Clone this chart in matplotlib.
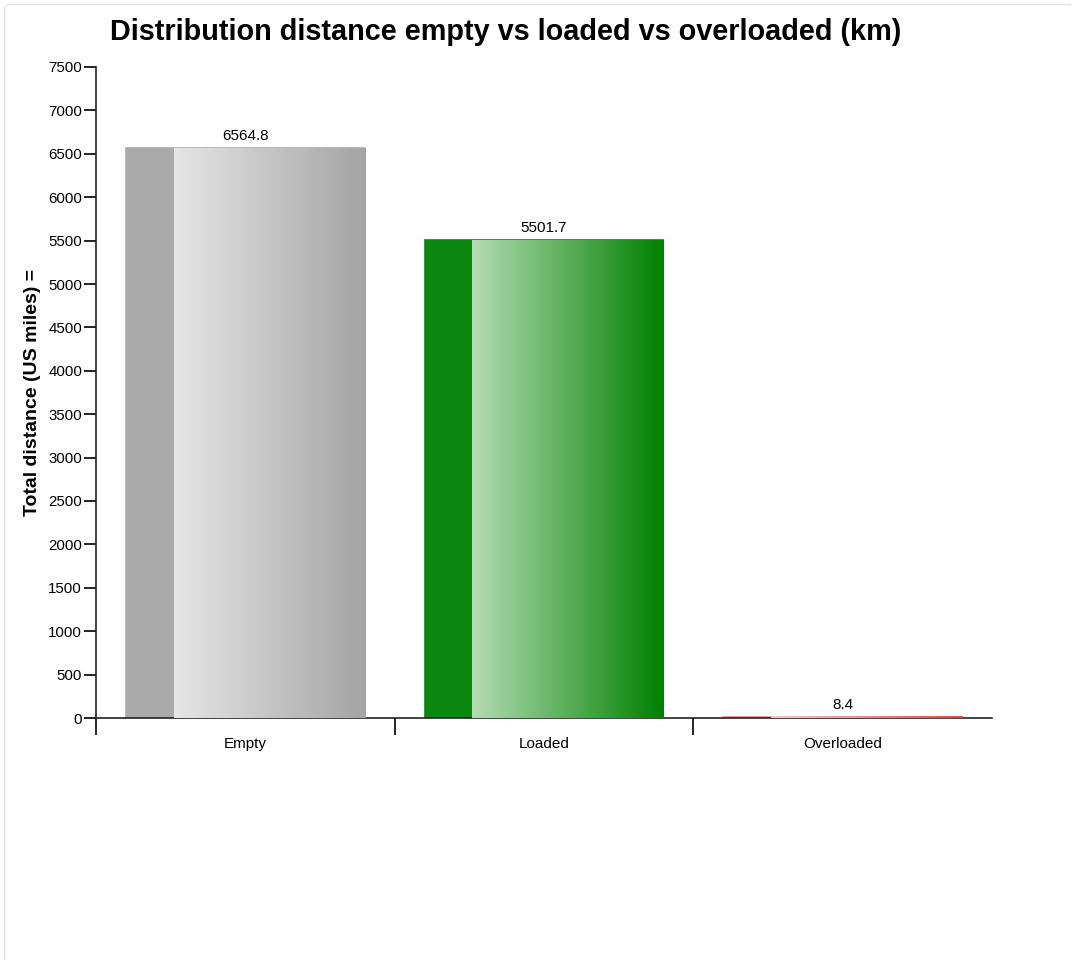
import numpy as np
import matplotlib.pyplot as plt
from matplotlib.colors import LinearSegmentedColormap
from matplotlib.lines import Line2D

plt.rcParams['font.family'] = ['Liberation Sans', 'DejaVu Sans']

categories = ['Empty', 'Loaded', 'Overloaded']
values = [6564.8, 5501.7, 8.4]
solid_colors = ['#aaaaaa', '#0b870f', '#f08080']
grad_colors = [('#e6e6e6', '#a4a4a4'), ('#b3dcb3', '#008000'), ('#ffc8c8', '#f04040')]
y_ticks = list(range(0, 7501, 500))

W, H = 1078, 960
fig = plt.figure(figsize=(W / 100, H / 100), dpi=100)
ax = fig.add_axes([96 / W, (H - 718) / H, (992 - 96) / W, (718 - 67) / H])

x = np.arange(len(categories))
bars = ax.bar(x, values, width=0.8, color=solid_colors, edgecolor=solid_colors,
              linewidth=1.2, zorder=2)

# gradient part of each bar (right ~80%)
grad = np.linspace(0, 1, 256).reshape(1, -1)
for b, (c0, c1) in zip(bars, grad_colors):
    cmap = LinearSegmentedColormap.from_list('g', [c0, c1])
    x0 = b.get_x() + b.get_width() * 0.2
    x1 = b.get_x() + b.get_width()
    ax.imshow(grad, cmap=cmap, aspect='auto', extent=(x0, x1, 0, max(b.get_height(), 20)),
              zorder=3, interpolation='bilinear')

for b, v in zip(bars, values):
    ax.annotate(f'{v}', (b.get_x() + b.get_width() / 2, v), xytext=(0, 4),
                textcoords='offset points', ha='center', va='bottom', fontsize=11)

ax.set_xlim(-0.5, len(categories) - 0.5)
ax.set_ylim(0, 7500)
ax.set_yticks(y_ticks)
ax.tick_params(axis='y', length=9, width=1.2, labelsize=10.8, pad=1)

ax.set_xticks(np.arange(-0.5, len(categories) - 0.5, 1))
ax.set_xticklabels([])
ax.tick_params(axis='x', length=12, width=1.2, direction='out')
ax.set_xticks(x, minor=True)
ax.set_xticklabels(categories, minor=True)
ax.tick_params(axis='x', which='minor', length=0, labelsize=11, pad=14)

for s in ['top', 'right']:
    ax.spines[s].set_visible(False)
for s in ['left', 'bottom']:
    ax.spines[s].set_linewidth(1.2)
    ax.spines[s].set_color('#222222')

ax.set_ylabel('Total distance (US miles) =', fontsize=14, fontweight='bold', labelpad=5)
fig.text(506 / W, 1 - 32 / H, 'Distribution distance empty vs loaded vs overloaded (km)',
         ha='center', va='center', fontsize=20.8, fontweight='bold')

# faint frame of the panel
fig.add_artist(Line2D([4 / W, 4 / W], [0, 1 - 6 / H], transform=fig.transFigure,
                      color='#e2e2e2', lw=1))
fig.add_artist(Line2D([6 / W, 1070 / W], [1 - 4 / H, 1 - 4 / H], transform=fig.transFigure,
                      color='#e2e2e2', lw=1))

fig.savefig('out.png', dpi=100)
